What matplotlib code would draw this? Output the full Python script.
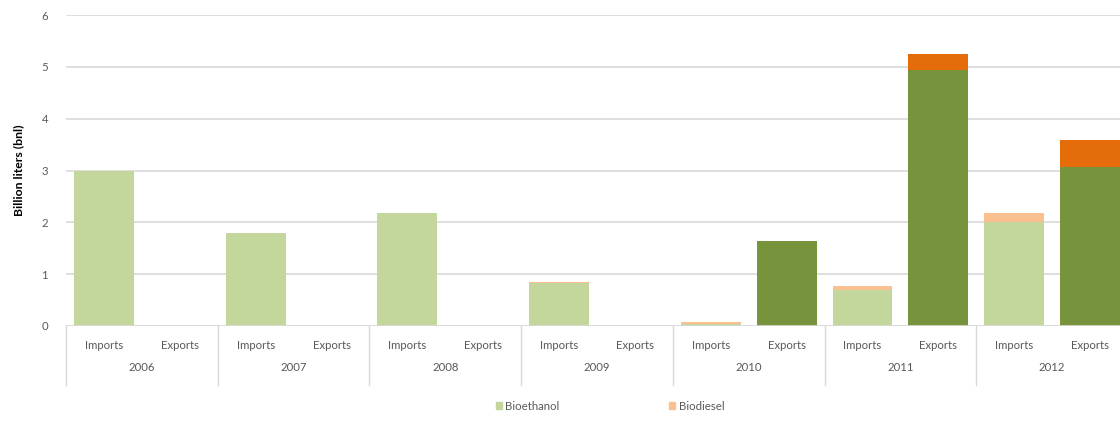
import numpy as np
import matplotlib.pyplot as plt
from matplotlib.patches import Patch

plt.rcParams['font.family'] = ['Lato', 'DejaVu Sans']

# trade of biofuels, billion liters
years = ['2006', '2007', '2008', '2009', '2010', '2011', '2012']
flows = ['Imports', 'Exports']
ethanol_imports = [3.00, 1.80, 2.18, 0.82, 0.04, 0.70, 2.01]
diesel_imports = [0.00, 0.00, 0.00, 0.02, 0.04, 0.08, 0.17]
ethanol_exports = [0.00, 0.00, 0.00, 0.00, 1.64, 4.93, 3.06]
diesel_exports = [0.00, 0.00, 0.00, 0.00, 0.00, 0.32, 0.53]

c_eth_imp = '#c3d69b'
c_die_imp = '#fac090'
c_eth_exp = '#77933c'
c_die_exp = '#e46c0a'
grey = '#d9d9d9'
txt = '#595959'
fs = 8.2

fig = plt.figure(figsize=(11.2, 4.26), dpi=100)
ax = fig.add_axes([66 / 1120, 1 - 326 / 426, 1062 / 1120, 311 / 426])

n = len(years)
x_imp = np.arange(n) * 2
x_exp = x_imp + 1
w = 0.79

ax.bar(x_imp, ethanol_imports, w, color=c_eth_imp, zorder=3)
ax.bar(x_imp, diesel_imports, w, bottom=ethanol_imports, color=c_die_imp, zorder=3)
ax.bar(x_exp, ethanol_exports, w, color=c_eth_exp, zorder=3)
ax.bar(x_exp, diesel_exports, w, bottom=ethanol_exports, color=c_die_exp, zorder=3)

ax.set_xlim(-0.5, 2 * n - 0.5)
ax.set_ylim(0, 6)
ax.set_yticks(range(7))
ax.yaxis.grid(True, color=grey, linewidth=1.2)
ax.set_axisbelow(True)
for s in ax.spines.values():
    s.set_visible(False)
ax.tick_params(axis='y', length=0, pad=13, labelsize=fs, labelcolor=txt)
ax.set_xticks([])
ax.set_ylabel('Billion liters (bnl)', fontsize=8.8, fontweight='bold', labelpad=12)

# two-level category axis
ax.axhline(0, color=grey, linewidth=1.2, zorder=4)
for i in range(n + 1):
    ax.plot([2 * i - 0.5, 2 * i - 0.5], [0, -1.14], color=grey, linewidth=1,
            clip_on=False)
for i, yr in enumerate(years):
    for j, fl in enumerate(flows):
        ax.text(2 * i + j, -0.37, fl, ha='center', va='center', fontsize=fs,
                color=txt, clip_on=False)
    ax.text(2 * i + 0.5, -0.81, yr, ha='center', va='center', fontsize=fs,
            color=txt, clip_on=False)

handles = [Patch(color=c_eth_imp, label='Bioethanol'),
           Patch(color=c_die_imp, label='Biodiesel')]
fig.legend(handles=handles, loc='center', bbox_to_anchor=(610 / 1120, 1 - 406 / 426),
           ncol=2, frameon=False, fontsize=fs, handlelength=0.55, handleheight=0.55,
           handletextpad=0.3, columnspacing=9.6, labelcolor=txt)

fig.savefig('out.png', dpi=100)
